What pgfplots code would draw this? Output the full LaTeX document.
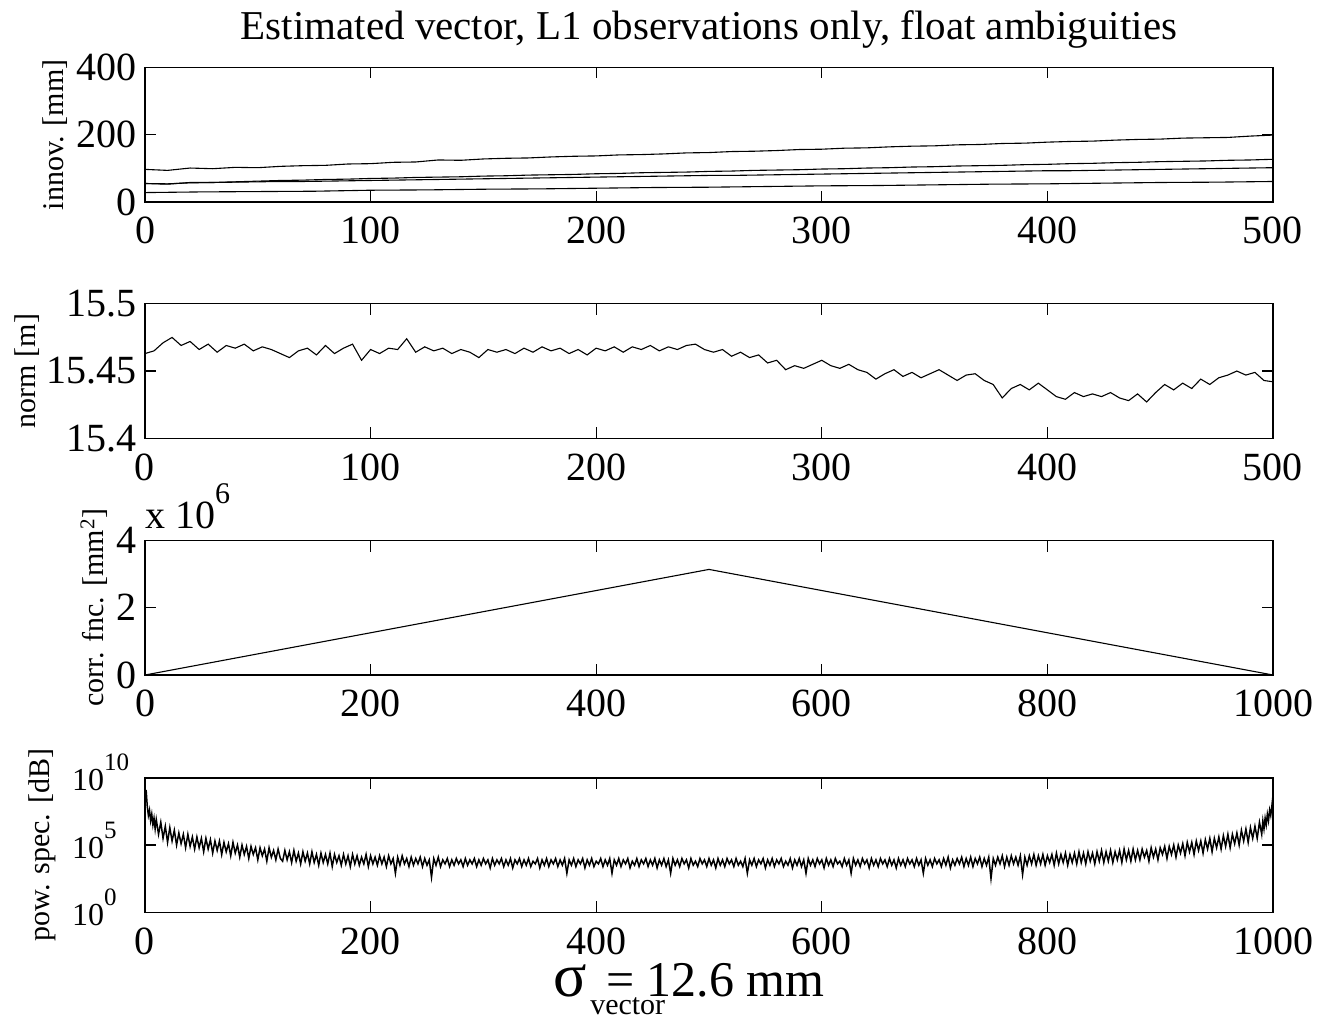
\documentclass[border=0pt]{standalone}
\usepackage{fontspec}
\setmainfont{Liberation Serif}
\usepackage{pgfplots}
\usepackage{pgfplotstable}
\pgfplotsset{compat=1.18}

\pgfplotstableread[row sep=\\]{
x y\\
0 15.463\\ 4 15.465\\ 8 15.471\\ 12 15.475\\ 16 15.469\\ 20 15.472\\ 24 15.466\\ 28 15.470\\ 32 15.464\\ 36 15.469\\
40 15.467\\ 44 15.470\\ 48 15.465\\ 52 15.468\\ 56 15.466\\ 60 15.463\\ 64 15.460\\ 68 15.465\\ 72 15.467\\ 76 15.462\\
80 15.469\\ 84 15.463\\ 88 15.467\\ 92 15.470\\ 96 15.458\\ 100 15.466\\ 104 15.463\\ 108 15.467\\ 112 15.466\\ 116 15.474\\
120 15.464\\ 124 15.468\\ 128 15.465\\ 132 15.467\\ 136 15.463\\ 140 15.466\\ 144 15.464\\ 148 15.460\\ 152 15.466\\ 156 15.464\\
160 15.466\\ 164 15.463\\ 168 15.467\\ 172 15.464\\ 176 15.468\\ 180 15.465\\ 184 15.467\\ 188 15.463\\ 192 15.466\\ 196 15.462\\
200 15.467\\ 204 15.465\\ 208 15.468\\ 212 15.464\\ 216 15.468\\ 220 15.466\\ 224 15.469\\ 228 15.465\\ 232 15.468\\ 236 15.466\\
240 15.469\\ 244 15.470\\ 248 15.466\\ 252 15.464\\ 256 15.466\\ 260 15.461\\ 264 15.464\\ 268 15.460\\ 272 15.462\\ 276 15.456\\
280 15.458\\ 284 15.451\\ 288 15.454\\ 292 15.452\\ 296 15.455\\ 300 15.458\\ 304 15.454\\ 308 15.452\\ 312 15.455\\ 316 15.451\\
320 15.449\\ 324 15.444\\ 328 15.448\\ 332 15.451\\ 336 15.446\\ 340 15.449\\ 344 15.445\\ 348 15.448\\ 352 15.451\\ 356 15.447\\
360 15.443\\ 364 15.447\\ 368 15.448\\ 372 15.443\\ 376 15.440\\ 380 15.430\\ 384 15.437\\ 388 15.440\\ 392 15.436\\ 396 15.441\\
400 15.436\\ 404 15.431\\ 408 15.429\\ 412 15.434\\ 416 15.431\\ 420 15.433\\ 424 15.431\\ 428 15.434\\ 432 15.430\\ 436 15.428\\
440 15.433\\ 444 15.427\\ 448 15.434\\ 452 15.440\\ 456 15.436\\ 460 15.441\\ 464 15.437\\ 468 15.444\\ 472 15.440\\ 476 15.445\\
480 15.447\\ 484 15.450\\ 488 15.447\\ 492 15.449\\ 496 15.443\\ 500 15.442\\
}\normdata

\pgfplotstableread[row sep=\\]{
x y\\
1 9.1\\ 2 7.9\\ 3 7.2\\ 4 7.6\\ 5 6.8\\ 6 7.3\\ 7 6.5\\ 8 7.0\\ 9 6.2\\ 10 6.9\\
12 5.8\\ 14 6.7\\ 16 5.5\\ 18 6.4\\ 20 5.2\\ 22 6.3\\ 24 5.3\\ 26 6.1\\ 28 5.0\\ 30 5.9\\
32 5.1\\ 34 5.8\\ 36 4.8\\ 38 5.8\\ 40 4.9\\ 42 5.6\\ 44 4.7\\ 46 5.6\\ 48 4.8\\ 50 5.5\\
52 4.5\\ 54 5.5\\ 56 4.7\\ 58 5.4\\ 60 4.4\\ 62 5.3\\ 64 4.6\\ 66 5.3\\ 68 4.3\\ 70 5.2\\
72 4.5\\ 74 5.1\\ 76 4.2\\ 78 5.2\\ 80 4.4\\ 82 5.0\\ 84 4.1\\ 86 5.0\\ 88 4.3\\ 90 4.9\\
92 4.0\\ 94 4.9\\ 96 4.3\\ 98 4.8\\ 100 3.9\\ 102 4.8\\ 104 4.2\\ 106 4.7\\ 108 3.8\\ 110 4.8\\
112 4.1\\ 114 4.6\\ 116 3.9\\ 118 4.7\\ 120 4.0\\
122 3.8\\ 124 4.6\\ 126 3.9\\ 128 4.5\\ 130 3.7\\ 132 4.6\\ 134 3.8\\ 136 4.4\\ 138 3.6\\ 140 4.5\\
142 3.8\\ 144 4.4\\ 146 3.6\\ 148 4.5\\ 150 3.7\\ 152 4.3\\ 154 3.5\\ 156 4.4\\ 158 3.7\\ 160 4.3\\
162 3.6\\ 164 4.4\\ 166 3.4\\ 168 4.3\\ 170 3.7\\ 172 4.2\\ 174 3.5\\ 176 4.3\\ 178 3.6\\ 180 4.2\\
182 3.4\\ 184 4.3\\ 186 3.6\\ 188 4.2\\ 190 3.5\\ 192 4.1\\ 194 3.6\\ 196 4.3\\ 198 3.4\\ 200 4.2\\
202 3.6\\ 204 4.1\\ 206 3.5\\ 208 4.2\\ 210 3.6\\ 212 4.1\\ 214 3.4\\ 216 4.2\\ 218 3.6\\ 220 4.0\\
222 2.9\\ 224 4.1\\ 226 3.5\\ 228 4.2\\ 230 3.6\\ 232 4.0\\ 234 3.4\\ 236 4.1\\ 238 3.5\\ 240 4.0\\
242 3.6\\ 244 4.1\\ 246 3.4\\ 248 4.0\\ 250 3.5\\ 252 3.9\\ 254 2.6\\ 256 4.0\\ 258 3.5\\ 260 4.1\\
262 3.4\\ 264 3.9\\ 266 3.6\\ 268 4.0\\ 270 3.4\\ 272 3.9\\ 274 3.5\\ 276 4.0\\ 278 3.6\\ 280 3.9\\
282 3.4\\ 284 4.0\\ 286 3.5\\ 288 3.9\\ 290 3.6\\ 292 4.0\\ 294 3.4\\ 296 3.9\\ 298 3.5\\ 300 4.0\\
302 3.6\\ 304 3.9\\ 306 3.3\\ 308 4.0\\ 310 3.5\\ 312 3.9\\ 314 3.6\\ 316 4.0\\ 318 3.4\\ 320 3.9\\
322 3.5\\ 324 4.0\\ 326 3.3\\ 328 3.9\\ 330 3.6\\ 332 4.0\\ 334 3.4\\ 336 3.9\\ 338 3.5\\ 340 4.0\\
342 3.4\\ 344 3.8\\ 346 3.6\\ 348 4.0\\ 350 3.3\\ 352 3.9\\ 354 3.5\\ 356 4.0\\ 358 3.4\\ 360 3.9\\
362 3.6\\ 364 4.0\\ 366 3.4\\ 368 3.9\\ 370 3.5\\ 372 4.0\\ 374 2.9\\ 376 3.9\\ 378 3.5\\ 380 4.0\\
382 3.4\\ 384 3.9\\ 386 3.6\\ 388 4.0\\ 390 3.3\\ 392 3.9\\ 394 3.5\\ 396 4.0\\ 398 3.4\\ 400 3.8\\
402 3.6\\ 404 4.0\\ 406 3.4\\ 408 3.9\\ 410 3.5\\ 412 4.0\\ 414 2.9\\ 416 3.9\\ 418 3.5\\ 420 4.0\\
422 3.4\\ 424 3.9\\ 426 3.6\\ 428 4.0\\ 430 3.3\\ 432 3.8\\ 434 3.5\\ 436 4.0\\ 438 3.4\\ 440 3.9\\
442 3.6\\ 444 4.0\\ 446 3.4\\ 448 3.9\\ 450 3.5\\ 452 4.0\\ 454 3.3\\ 456 3.9\\ 458 3.5\\ 460 4.0\\
462 3.4\\ 464 3.9\\ 466 2.9\\ 468 4.0\\ 470 3.5\\ 472 3.9\\ 474 3.4\\ 476 4.0\\ 478 3.6\\ 480 3.9\\
482 3.3\\ 484 4.0\\ 486 3.5\\ 488 3.8\\ 490 3.4\\ 492 4.0\\ 494 3.6\\ 496 3.9\\ 498 3.4\\ 500 4.0\\
502 3.5\\ 504 3.9\\ 506 3.3\\ 508 4.0\\ 510 3.5\\ 512 3.9\\ 514 3.4\\ 516 4.0\\ 518 3.6\\ 520 3.9\\
522 3.4\\ 524 4.0\\ 526 3.5\\ 528 3.8\\ 530 3.4\\ 532 4.0\\ 534 2.9\\ 536 3.9\\ 538 3.5\\ 540 4.0\\
542 3.4\\ 544 3.9\\ 546 3.6\\ 548 4.0\\ 550 3.3\\ 552 3.9\\ 554 3.5\\ 556 4.0\\ 558 3.4\\ 560 3.9\\
562 3.6\\ 564 4.0\\ 566 3.4\\ 568 3.8\\ 570 3.5\\ 572 4.0\\ 574 3.3\\ 576 3.9\\ 578 3.5\\ 580 4.0\\
582 3.4\\ 584 3.9\\ 586 2.9\\ 588 4.0\\ 590 3.5\\ 592 3.9\\ 594 3.4\\ 596 4.0\\ 598 3.6\\ 600 3.9\\
602 3.3\\ 604 4.0\\ 606 3.5\\ 608 3.9\\ 610 3.4\\ 612 4.0\\ 614 3.6\\ 616 3.8\\ 618 3.4\\ 620 4.0\\
622 3.5\\ 624 3.9\\ 626 2.9\\ 628 4.0\\ 630 3.5\\ 632 3.9\\ 634 3.4\\ 636 4.0\\ 638 3.6\\ 640 3.9\\
642 3.3\\ 644 4.0\\ 646 3.5\\ 648 3.9\\ 650 3.4\\ 652 4.0\\ 654 3.6\\ 656 3.9\\ 658 3.4\\ 660 4.0\\
662 3.5\\ 664 3.9\\ 666 3.3\\ 668 4.0\\ 670 3.5\\ 672 3.9\\ 674 3.4\\ 676 4.0\\ 678 3.6\\ 680 3.9\\
682 3.4\\ 684 4.0\\ 686 3.5\\ 688 3.9\\ 690 2.9\\ 692 4.0\\ 694 3.5\\ 696 3.9\\ 698 3.4\\ 700 4.0\\
702 3.6\\ 704 3.9\\ 706 3.4\\ 708 4.0\\ 710 3.5\\ 712 4.1\\ 714 3.3\\ 716 3.9\\ 718 3.5\\ 720 4.0\\
722 3.6\\ 724 4.1\\ 726 3.4\\ 728 4.0\\ 730 3.5\\ 732 4.1\\ 734 3.4\\ 736 4.0\\ 738 3.6\\ 740 4.1\\
742 3.4\\ 744 4.0\\ 746 3.5\\ 748 4.1\\ 750 2.5\\ 752 4.0\\ 754 3.5\\ 756 4.1\\ 758 3.6\\ 760 4.2\\
762 3.4\\ 764 4.1\\ 766 3.5\\ 768 4.2\\ 770 3.6\\ 772 4.1\\ 774 3.5\\ 776 4.2\\ 778 2.8\\ 780 4.1\\
782 3.5\\ 784 4.2\\ 786 3.6\\ 788 4.3\\ 790 3.5\\ 792 4.2\\ 794 3.6\\ 796 4.3\\ 798 3.5\\ 800 4.2\\
802 3.7\\ 804 4.3\\ 806 3.5\\ 808 4.4\\ 810 3.6\\ 812 4.3\\ 814 3.7\\ 816 4.4\\ 818 3.5\\ 820 4.3\\
822 3.7\\ 824 4.4\\ 826 3.6\\ 828 4.5\\ 830 3.7\\ 832 4.4\\ 834 3.6\\ 836 4.5\\ 838 3.8\\ 840 4.4\\
842 3.6\\ 844 4.5\\ 846 3.8\\ 848 4.6\\ 850 3.7\\ 852 4.5\\ 854 3.8\\ 856 4.6\\ 858 3.7\\ 860 4.5\\
862 3.9\\ 864 4.6\\ 866 3.7\\ 868 4.7\\ 870 3.9\\ 872 4.6\\ 874 3.8\\ 876 4.7\\ 878 3.9\\ 880 4.6\\
882 3.9\\ 884 4.7\\ 886 4.1\\ 888 4.6\\ 890 3.8\\ 892 4.8\\ 894 4.1\\ 896 4.7\\ 898 3.9\\ 900 4.8\\
902 4.3\\ 904 4.9\\ 906 4.0\\ 908 4.9\\ 910 4.3\\ 912 5.0\\ 914 4.1\\ 916 5.0\\ 918 4.4\\ 920 5.1\\
922 4.2\\ 924 5.2\\ 926 4.5\\ 928 5.2\\ 930 4.3\\ 932 5.3\\ 934 4.6\\ 936 5.3\\ 938 4.4\\ 940 5.4\\
942 4.7\\ 944 5.5\\ 946 4.5\\ 948 5.5\\ 950 4.8\\ 952 5.6\\ 954 4.7\\ 956 5.7\\ 958 4.9\\ 960 5.8\\
962 4.8\\ 964 5.8\\ 966 5.1\\ 968 5.9\\ 970 5.0\\ 972 6.1\\ 974 5.3\\ 976 6.2\\ 978 5.2\\ 980 6.3\\
982 5.5\\ 984 6.4\\ 986 5.5\\ 988 6.7\\ 990 5.8\\ 991 6.8\\ 992 6.2\\ 993 7.0\\ 994 6.5\\ 995 7.3\\
996 6.8\\ 997 7.6\\ 998 7.2\\ 999 7.9\\ 1000 8.7\\
}\specdata

\newcommand{\tl}{\fontsize{40}{48}\selectfont}
\newcommand{\lb}{\fontsize{30}{36}\selectfont}
\newcommand{\pw}[1]{10\raisebox{0.62em}{\fontsize{25}{26}\selectfont #1}}
\newcommand{\sigmalabel}{%
  \makebox[37pt][l]{\fontsize{62}{62}\selectfont σ}%
  \makebox[0pt][l]{\raisebox{-18pt}{\fontsize{30}{32}\selectfont vector}}%
  \hspace*{16pt}= 12.6 mm}

\pgfplotsset{
  myaxis/.style={
    scale only axis, width=1128pt, height=134.5pt,
    anchor=south west,
    axis line style={line width=1.4pt},
    tick align=inside,
    major tick length=11pt,
    every tick/.style={black, line width=1.2pt},
    tick label style={font=\tl},
    /pgf/number format/assume math mode=true,
    /pgf/number format/1000 sep={},
    scaled ticks=false,
    xticklabel style={anchor=base, inner sep=0pt, yshift=-42pt},
    every axis plot/.append style={line width=1.1pt},
    cycle list={{black, mark=none}},
    every axis plot post/.append style={black, mark=none},
    every axis title/.style={at={(0.5,1)}, anchor=base, yshift=28pt},
  }
}

\begin{document}
\begin{tikzpicture}
\useasboundingbox (0,0) rectangle (1320pt,1018pt);

% Panel 1
\begin{axis}[myaxis, at={(145pt,816pt)},
  xmin=0, xmax=500, ymin=0, ymax=400,
  xtick={0,100,200,300,400,500}, ytick={0,200,400},
  yticklabel style={anchor=east, inner sep=0pt, xshift=-8pt},
  ylabel={innov. [mm]},
  ylabel style={at={([xshift=-82pt]rel axis cs:0,0.5)}, anchor=base, font=\lb},
  title={Estimated vector, L1 observations only, float ambiguities},
  title style={font=\fontsize{41}{48}\selectfont},
]
\addplot coordinates {(0,97)(10,94)(20,101)(30,99)(40,103)(50,102)(60,106)(70,108)(80,109)(90,113)(100,114)(110,118)(120,119)(130,125)(140,124)(150,128)(160,130)(170,131)(180,134)(190,136)(200,137)(210,140)(220,141)(230,143)(240,146)(250,147)(260,150)(270,151)(280,153)(290,156)(300,157)(310,160)(320,161)(330,164)(340,166)(350,167)(360,170)(370,171)(380,174)(390,175)(400,178)(410,180)(420,181)(430,184)(440,186)(450,187)(460,190)(470,191)(480,192)(490,196)(500,199)};
\addplot coordinates {(0,55)(10,53)(20,58)(30,58)(40,60)(50,62)(60,64)(70,65)(80,67)(90,68)(100,70)(110,71)(120,73)(130,74)(140,75)(150,77)(160,78)(170,80)(180,81)(190,82)(200,84)(210,85)(220,87)(230,88)(240,89)(250,91)(260,92)(270,94)(280,95)(290,96)(300,98)(310,99)(320,101)(330,102)(340,104)(350,105)(360,107)(370,108)(380,109)(390,111)(400,112)(410,114)(420,115)(430,117)(440,118)(450,120)(460,121)(470,122)(480,124)(490,125)(500,127)};
\addplot coordinates {(0,55)(10,54)(20,57)(30,58)(40,59)(50,60)(60,61)(70,61)(80,62)(90,63)(100,64)(110,65)(120,66)(130,67)(140,68)(150,69)(160,70)(170,71)(180,72)(190,73)(200,74)(210,75)(220,76)(230,77)(240,78)(250,79)(260,79)(270,80)(280,81)(290,82)(300,83)(310,84)(320,85)(330,86)(340,87)(350,88)(360,89)(370,90)(380,91)(390,92)(400,93)(410,93)(420,94)(430,95)(440,96)(450,97)(460,98)(470,99)(480,100)(490,101)(500,102)};
\addplot coordinates {(0,28)(25,30)(50,31)(75,32)(100,35)(125,36)(150,38)(175,39)(200,41)(225,43)(250,44)(275,46)(300,48)(325,49)(350,51)(375,53)(400,54)(425,56)(450,58)(475,59)(500,61)};
\end{axis}

% Panel 2
\begin{axis}[myaxis, at={(145pt,579.7pt)},
  xmin=0, xmax=500, ymin=15.4, ymax=15.5,
  xtick={0,100,200,300,400,500}, ytick={15.4,15.45,15.5},
  yticklabels={15.4,15.45,15.5},
  yticklabel style={anchor=east, inner sep=0pt, xshift=-8pt},
  ylabel={norm [m]},
  ylabel style={at={([xshift=-109.5pt]rel axis cs:0,0.5)}, anchor=base, font=\lb},
]
\addplot table[x=x,y=y] {\normdata};
\end{axis}

% Panel 3
\begin{axis}[myaxis, at={(145pt,343pt)}, name=p3,
  xmin=0, xmax=1000, ymin=0, ymax=4,
  xtick={0,200,400,600,800,1000}, ytick={0,2,4},
  yticklabel style={anchor=east, inner sep=0pt, xshift=-8pt},
  ylabel={corr. fnc. [mm\textsuperscript{2}]},
  ylabel style={at={([xshift=-41.5pt]rel axis cs:0,0.5)}, anchor=base, font=\lb},
]
\addplot coordinates {(0,0)(100,0.628)(200,1.256)(300,1.884)(400,2.512)(500,3.14)(600,2.512)(700,1.884)(800,1.256)(900,0.628)(1000,0)};
\end{axis}
\node[anchor=base west, inner sep=0pt, font=\tl] at ([yshift=12pt]p3.north west) {x 10\raisebox{0.62em}{\fontsize{30}{32}\selectfont 6}};

% Panel 4
\begin{axis}[myaxis, at={(145pt,105.7pt)},
  xmin=0, xmax=1000, ymin=0, ymax=10,
  xtick={0,200,400,600,800,1000}, ytick={0,5,10},
  yticklabels={\pw{0},\pw{5},\pw{10}},
  yticklabel style={font=\fontsize{32}{36}\selectfont, anchor=base west, inner sep=0pt, xshift=-73pt, yshift=-13pt},
  ylabel={pow. spec. [dB]},
  ylabel style={at={([xshift=-95pt]rel axis cs:0,0.5)}, anchor=base, font=\lb},
  xlabel={\sigmalabel},
  xlabel style={at={([xshift=-20pt,yshift=-84pt]rel axis cs:0.5,0)}, anchor=base, font=\fontsize{50}{56}\selectfont},
]
\addplot[line width=1.5pt] table[x=x,y=y] {\specdata};
\end{axis}
\end{tikzpicture}
\end{document}
